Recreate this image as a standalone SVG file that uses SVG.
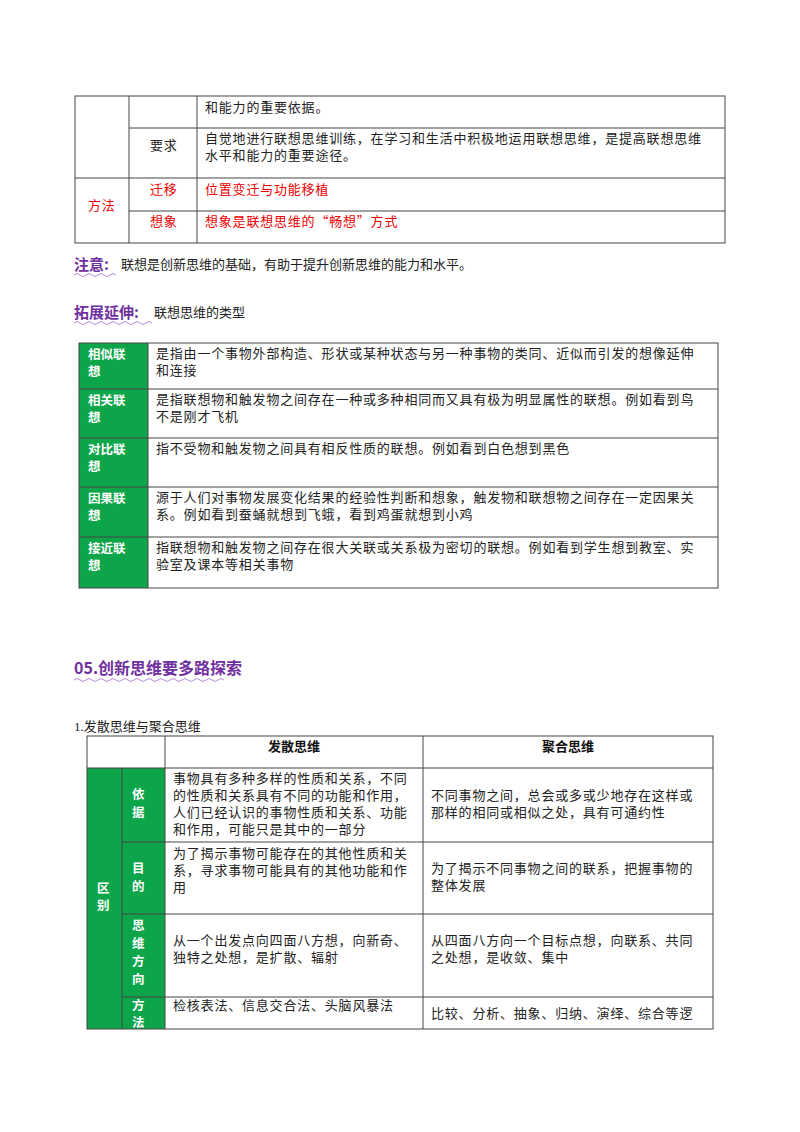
<svg xmlns="http://www.w3.org/2000/svg" width="800" height="1132" viewBox="0 0 800 1132">
<style>
.t{font-family:"Noto Sans CJK SC","Liberation Serif",serif;font-size:13px;letter-spacing:0.8px;fill:#222}
.r{fill:#e00}
.w{font-family:"Noto Sans CJK SC",sans-serif;font-size:12.5px;font-weight:bold;fill:#fff}
.h{font-family:"Noto Sans CJK SC",sans-serif;font-size:13px;font-weight:bold;fill:#111}
.p{font-family:"Noto Sans CJK SC",sans-serif;font-weight:bold;fill:#7030a0}
.n{font-family:"Noto Sans CJK SC",sans-serif;font-size:13px;fill:#222}
.ln{stroke:#444;stroke-width:1;fill:none}
.g{fill:#0ca54a}
.wave{stroke:#b58bd6;stroke-width:1;fill:none}
</style>
<rect width="800" height="1132" fill="#fff"/>
<g id="table1">
<rect class="ln" x="75" y="96" width="650" height="147"/>
<line class="ln" x1="129" y1="96" x2="129" y2="243"/>
<line class="ln" x1="197" y1="96" x2="197" y2="243"/>
<line class="ln" x1="129" y1="128" x2="725" y2="128"/>
<line class="ln" x1="75" y1="178" x2="725" y2="178"/>
<line class="ln" x1="129" y1="211" x2="725" y2="211"/>
<text class="t" x="205" y="112">和能力的重要依据。</text>
<text class="t" x="150" y="150">要求</text>
<text class="t" x="205" y="143">自觉地进行联想思维训练，在学习和生活中积极地运用联想思维，是提高联想思维</text>
<text class="t" x="205" y="160">水平和能力的重要途径。</text>
<text class="t r" x="88" y="210">方法</text>
<text class="t r" x="150" y="194">迁移</text>
<text class="t r" x="205" y="194">位置变迁与功能移植</text>
<text class="t r" x="150" y="226">想象</text>
<text class="t r" x="205" y="226">想象是联想思维的“畅想”方式</text>
</g>
<g id="notes">
<text class="p" x="74" y="270" font-size="15">注意:</text>
<text class="n" x="121" y="269">联想是创新思维的基础，有助于提升创新思维的能力和水平。</text>
<path class="wave" d="M74 275 q3 -3 6 0 t6 0 t6 0 t6 0 t6 0 t6 0 t6 0"/>
<text class="p" x="74" y="318" font-size="15">拓展延伸:</text>
<text class="n" x="154" y="317">联想思维的类型</text>
<path class="wave" d="M74 323 q3 -3 6 0 t6 0 t6 0 t6 0 t6 0 t6 0 t6 0 t6 0 t6 0 t6 0 t6 0 t6 0 t6 0"/>
</g>
<g id="table2">
<rect class="g" x="79" y="343" width="69" height="245"/>
<rect class="ln" x="79" y="343" width="639" height="245"/>
<line class="ln" x1="148" y1="343" x2="148" y2="588"/>
<line class="ln" x1="79" y1="389" x2="718" y2="389"/>
<line class="ln" x1="79" y1="438" x2="718" y2="438"/>
<line class="ln" x1="79" y1="487" x2="718" y2="487"/>
<line class="ln" x1="79" y1="537" x2="718" y2="537"/>
<text class="w" x="88" y="359">相似联</text><text class="w" x="88" y="376">想</text>
<text class="t" x="156" y="358">是指由一个事物外部构造、形状或某种状态与另一种事物的类同、近似而引发的想像延伸</text>
<text class="t" x="156" y="375">和连接</text>
<text class="w" x="88" y="405">相关联</text><text class="w" x="88" y="422">想</text>
<text class="t" x="156" y="404">是指联想物和触发物之间存在一种或多种相同而又具有极为明显属性的联想。例如看到鸟</text>
<text class="t" x="156" y="421">不是刚才飞机</text>
<text class="w" x="88" y="454">对比联</text><text class="w" x="88" y="471">想</text>
<text class="t" x="156" y="453">指不受物和触发物之间具有相反性质的联想。例如看到白色想到黑色</text>
<text class="w" x="88" y="503">因果联</text><text class="w" x="88" y="520">想</text>
<text class="t" x="156" y="502">源于人们对事物发展变化结果的经验性判断和想象，触发物和联想物之间存在一定因果关</text>
<text class="t" x="156" y="519">系。例如看到蚕蛹就想到飞蛾，看到鸡蛋就想到小鸡</text>
<text class="w" x="88" y="553">接近联</text><text class="w" x="88" y="570">想</text>
<text class="t" x="156" y="552">指联想物和触发物之间存在很大关联或关系极为密切的联想。例如看到学生想到教室、实</text>
<text class="t" x="156" y="569">验室及课本等相关事物</text>
</g>
<g id="section">
<text class="p" x="74" y="674" font-size="16">05.创新思维要多路探索</text>
<path class="wave" d="M74 680 q3 -3 6 0 t6 0 t6 0 t6 0 t6 0 t6 0 t6 0 t6 0 t6 0 t6 0 t6 0 t6 0 t6 0 t6 0 t6 0 t6 0 t6 0 t6 0 t6 0 t6 0 t6 0 t6 0 t6 0 t6 0 t6 0"/>
<text x="74" y="731" font-family="Liberation Serif,Noto Sans CJK SC,serif" font-size="13" fill="#222">1.发散思维与聚合思维</text>
</g>
<g id="table3">
<rect class="g" x="87" y="768" width="78" height="261"/>
<rect class="ln" x="87" y="736" width="626" height="293"/>
<line class="ln" x1="122" y1="768" x2="122" y2="1029"/>
<line class="ln" x1="165" y1="736" x2="165" y2="1029"/>
<line class="ln" x1="423" y1="736" x2="423" y2="1029"/>
<line class="ln" x1="87" y1="768" x2="713" y2="768"/>
<line class="ln" x1="122" y1="842" x2="713" y2="842"/>
<line class="ln" x1="122" y1="914" x2="713" y2="914"/>
<line class="ln" x1="122" y1="997" x2="713" y2="997"/>
<text class="h" x="294" y="751" text-anchor="middle">发散思维</text>
<text class="h" x="568" y="751" text-anchor="middle">聚合思维</text>
<text class="w" x="97" y="893">区</text><text class="w" x="97" y="910">别</text>
<text class="w" x="132" y="799">依</text><text class="w" x="132" y="817">据</text>
<text class="t" x="173" y="783">事物具有多种多样的性质和关系，不同</text>
<text class="t" x="173" y="800">的性质和关系具有不同的功能和作用，</text>
<text class="t" x="173" y="817">人们已经认识的事物性质和关系、功能</text>
<text class="t" x="173" y="834">和作用，可能只是其中的一部分</text>
<text class="t" x="431" y="800">不同事物之间，总会或多或少地存在这样或</text>
<text class="t" x="431" y="817">那样的相同或相似之处，具有可通约性</text>
<text class="w" x="132" y="873">目</text><text class="w" x="132" y="891">的</text>
<text class="t" x="173" y="858">为了揭示事物可能存在的其他性质和关</text>
<text class="t" x="173" y="875">系，寻求事物可能具有的其他功能和作</text>
<text class="t" x="173" y="892">用</text>
<text class="t" x="431" y="873">为了揭示不同事物之间的联系，把握事物的</text>
<text class="t" x="431" y="890">整体发展</text>
<text class="w" x="132" y="930">思</text><text class="w" x="132" y="948">维</text><text class="w" x="132" y="966">方</text><text class="w" x="132" y="984">向</text>
<text class="t" x="173" y="945">从一个出发点向四面八方想，向新奇、</text>
<text class="t" x="173" y="962">独特之处想，是扩散、辐射</text>
<text class="t" x="431" y="945">从四面八方向一个目标点想，向联系、共同</text>
<text class="t" x="431" y="962">之处想，是收敛、集中</text>
<text class="w" x="132" y="1010" font-size="12">方</text><text class="w" x="132" y="1027" font-size="12">法</text>
<text class="t" x="173" y="1010">检核表法、信息交合法、头脑风暴法</text>
<text class="t" x="431" y="1018">比较、分析、抽象、归纳、演绎、综合等逻</text>
</g>
</svg>
